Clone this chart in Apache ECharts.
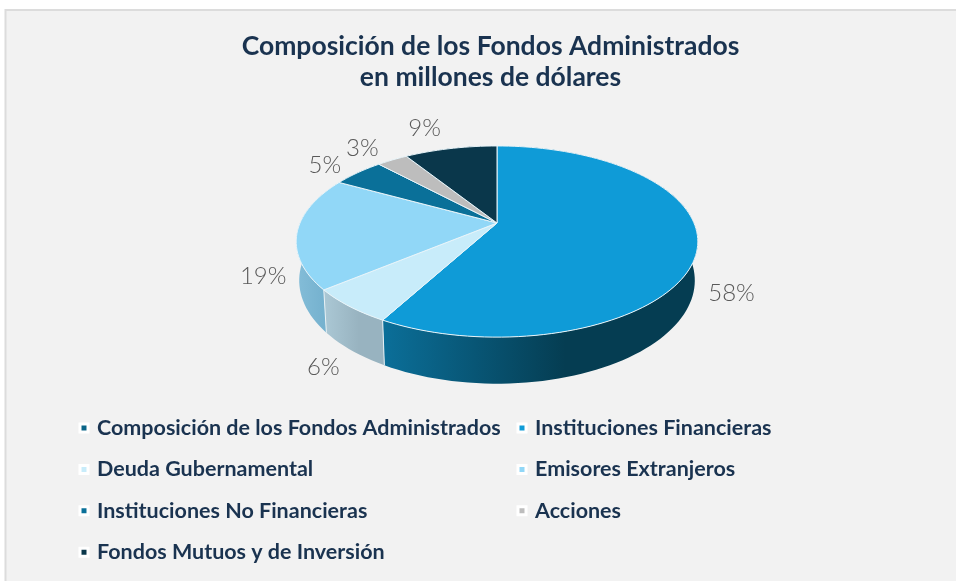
<!DOCTYPE html>
<html>
<head>
<meta charset="utf-8">
<title>Composición de los Fondos Administrados</title>
<script src="https://cdn.jsdelivr.net/npm/echarts@6/dist/echarts.min.js"></script>
<style>
    html, body { margin: 0; padding: 0; background: #fff; }
    #chart { width: 956px; height: 581px; }
</style>
</head>
<body>
<div id="chart"></div>
<script>
// legend order, the first entry has no slice of its own
var legendNames = ['Composición de los Fondos Administrados', 'Instituciones Financieras', 'Deuda Gubernamental', 'Emisores Extranjeros', 'Instituciones No Financieras', 'Acciones', 'Fondos Mutuos y de Inversión'];
var categories = ['Instituciones Financieras', 'Deuda Gubernamental', 'Emisores Extranjeros', 'Instituciones No Financieras', 'Acciones', 'Fondos Mutuos y de Inversión'];
var values = [58, 6, 19, 5, 3, 9];

var titleText = 'Composición de los Fondos Administrados\nen millones de dólares';
var topColors = ['#0f9bd7', '#c8ecfa', '#91d7f7', '#0a7099', '#bdbdbd', '#0a374b'];
var wallColors = [['#0b6f99', '#053d52'], ['#abc8d5', '#98b3c0'], ['#84bdd8', '#76b2cf'], ['#0a7099', '#0a7099'], ['#bdbdbd', '#bdbdbd'], ['#0a374b', '#0a374b']];
var labelOffsets = [[34, 46], [-26, 61], [-34, 44], [-33, -7], [-30, -12], [-26, -20]];

// pie geometry: circle seen in perspective
var cx = 497, cy = 223, rx = 197, ry = 92, persp = 0.194, depth = 37.5, lowShrink = 0.985;

var total = values.reduce(function (a, b) { return a + b; }, 0);

/**
 * point of the rim for a share (0..1) of the pie, clockwise from the top
 */
function rimPoint(share) {
    var t = share * Math.PI * 2;
    var u = Math.sin(t), v = -Math.cos(t);
    var d = 1 - persp * v;
    return { x: cx + rx * u / d, y: cy + ry * v / d, wall: depth / d };
}

function startShare(idx) {
    var sum = 0;
    for (var i = 0; i < idx; i++) {
        sum += values[i];
    }
    return sum / total;
}

/**
 * draws one slice, top face and side wall
 */
function renderSlice(idx, value) {
    var from = startShare(idx);
    var to = from + value / total;
    var steps = Math.max(4, Math.ceil((to - from) * 180));
    var arc = [], low = [];
    for (var i = 0; i <= steps; i++) {
        var p = rimPoint(from + (to - from) * i / steps);
        arc.push([p.x, p.y]);
        low.push([cx + (p.x - cx) * lowShrink, p.y + p.wall]);
    }
    var wallFill = new echarts.graphic.LinearGradient(0, 0, 1, 0, [
        { offset: 0, color: wallColors[idx][0] },
        { offset: 0.58, color: wallColors[idx][1] },
        { offset: 1, color: wallColors[idx][1] }
    ]);
    var mid = rimPoint((from + to) / 2);
    return {
        type: 'group',
        children: [{
            type: 'polygon',
            z2: 1,
            shape: { points: arc.concat(low.slice().reverse()) },
            style: { fill: wallFill }
        }, {
            type: 'line',
            z2: 2,
            shape: { x1: arc[0][0], y1: arc[0][1], x2: low[0][0], y2: low[0][1] },
            style: { stroke: '#e8f1f5', lineWidth: 1 }
        }, {
            type: 'polygon',
            z2: 3,
            shape: { points: [[cx, cy]].concat(arc) },
            style: { fill: topColors[idx], stroke: '#e9f5fa', lineWidth: 1, lineJoin: 'round' }
        }, {
            type: 'text',
            z2: 4,
            style: {
                x: mid.x + labelOffsets[idx][0],
                y: mid.y + labelOffsets[idx][1],
                text: value + '%',
                fill: '#595959',
                font: '300 24px Lato',
                align: 'center',
                verticalAlign: 'middle'
            }
        }]
    };
}

function buildSeries() {
    return legendNames.map(function (name) {
        var idx = categories.indexOf(name);
        return {
            type: 'custom',
            name: name,
            coordinateSystem: 'none',
            itemStyle: { color: idx < 0 ? '#0a6487' : topColors[idx] },
            data: idx < 0 ? [] : [values[idx]],
            renderItem: function (params, api) {
                return renderSlice(idx, api.value(0));
            }
        };
    });
}

function buildLegend(names, left) {
    return {
        orient: 'vertical',
        left: left,
        top: 412,
        data: names,
        selectedMode: false,
        icon: 'rect',
        itemWidth: 8,
        itemHeight: 8,
        itemGap: 19.4,
        itemStyle: { borderColor: '#ffffff', borderWidth: 3 },
        textStyle: { color: '#1a3350', fontFamily: 'Lato', fontWeight: 'bold', fontSize: 21.5, padding: [0, 0, 0, 4], lineHeight: 22 }
    };
}

var myChart = echarts.init(document.getElementById('chart'));
var option = {
    animation: false,
    backgroundColor: '#ffffff',
    graphic: [{
        type: 'rect',
        z: -10,
        shape: { x: 5.5, y: 10, width: 1000, height: 1000 },
        style: { fill: '#f2f2f2', stroke: '#dcdcdc', lineWidth: 2 }
    }],
    title: {
        text: titleText,
        left: 485.5,
        textAlign: 'center',
        top: 26,
        textStyle: { color: '#1a3350', fontFamily: 'Lato', fontWeight: 'bold', fontSize: 26.5, lineHeight: 31 }
    },
    legend: [
        buildLegend([legendNames[0], legendNames[2], legendNames[4], legendNames[6]], 73.5),
        buildLegend([legendNames[1], legendNames[3], legendNames[5]], 511.5)
    ],
    series: buildSeries()
};
myChart.setOption(option);
</script>
</body>
</html>
